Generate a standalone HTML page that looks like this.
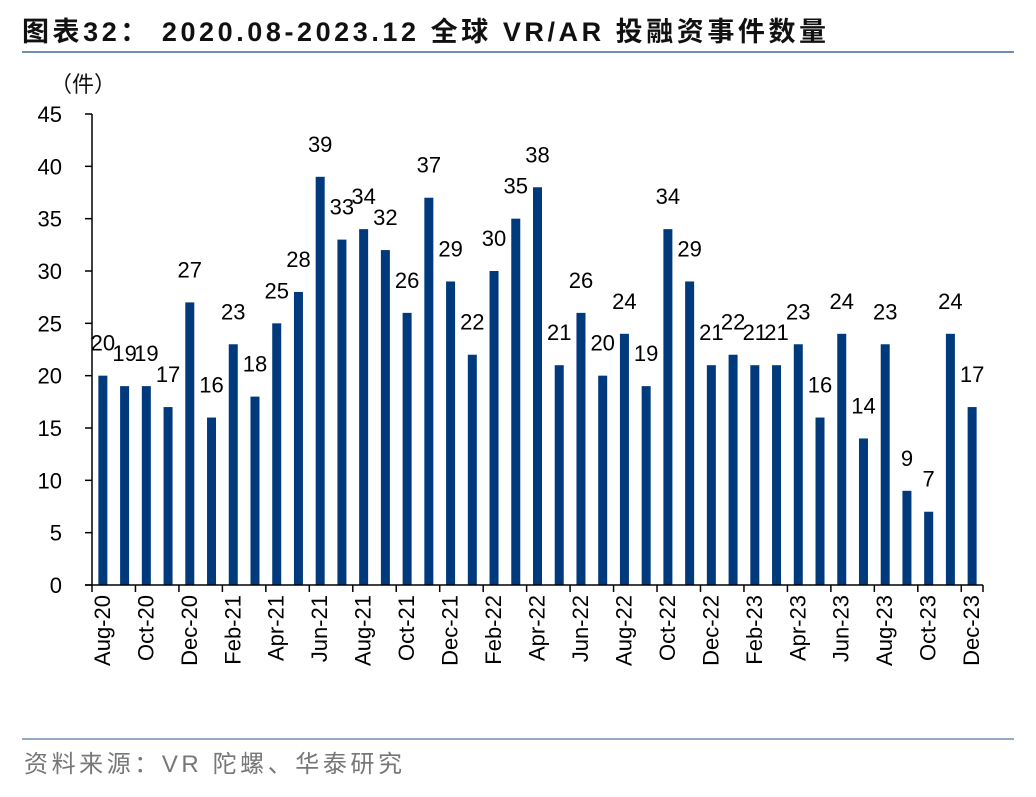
<!DOCTYPE html>
<html><head><meta charset="utf-8"><style>
body{margin:0;background:#fff;width:1036px;height:792px;overflow:hidden;font-family:"Liberation Sans","Noto Sans CJK SC",sans-serif}
</style></head><body>
<svg width="1036" height="792" xmlns="http://www.w3.org/2000/svg">
<text x="22" y="41" font-size="27" font-weight="bold" fill="#111" textLength="804" lengthAdjust="spacing" font-family="Liberation Sans, Noto Sans CJK SC, sans-serif">图表32：  2020.08-2023.12  全球 VR/AR 投融资事件数量</text>
<line x1="22" y1="52" x2="1014" y2="52" stroke="#6f8eb0" stroke-width="2"/>
<text x="50" y="92" font-size="22" fill="#111" font-family="Noto Sans CJK SC, sans-serif">（件）</text>
<g id="yax"></g><g id="bars"></g><g id="xax"></g>
<line x1="22" y1="739" x2="1014" y2="739" stroke="#6f8eb0" stroke-width="1.5"/>
<text x="24" y="772" font-size="24" fill="#777" textLength="378" lengthAdjust="spacing" font-family="Liberation Sans, Noto Sans CJK SC, sans-serif">资料来源：VR 陀螺、华泰研究</text>
</svg>
<script>
const categories=["Aug-20","Sep-20","Oct-20","Nov-20","Dec-20","Jan-21","Feb-21","Mar-21","Apr-21","May-21","Jun-21","Jul-21","Aug-21","Sep-21","Oct-21","Nov-21","Dec-21","Jan-22","Feb-22","Mar-22","Apr-22","May-22","Jun-22","Jul-22","Aug-22","Sep-22","Oct-22","Nov-22","Dec-22","Jan-23","Feb-23","Mar-23","Apr-23","May-23","Jun-23","Jul-23","Aug-23","Sep-23","Oct-23","Nov-23","Dec-23"];
const values=[20,19,19,17,27,16,23,18,25,28,39,33,34,32,26,37,29,22,30,35,38,21,26,20,24,19,34,29,21,22,21,21,23,16,24,14,23,9,7,24,17];
const yTicks=[0,5,10,15,20,25,30,35,40,45];
const NS="http://www.w3.org/2000/svg";
const x0=92,x1=983,y0=585,yTop=114,yMax=45;
const slot=(x1-x0)/categories.length;
const yS=v=>y0-(v/yMax)*(y0-yTop);
const xC=i=>x0+slot*(i+0.5);
function mk(tag,attrs,parent){const e=document.createElementNS(NS,tag);for(const k in attrs)e.setAttribute(k,attrs[k]);document.getElementById(parent).appendChild(e);return e;}
const ya=mk('line',{x1:x0,y1:yTop,x2:x0,y2:y0,stroke:'#000','stroke-width':1.5},'yax');


yTicks.forEach(t=>{
 const l=mk('line',{x1:x0-7,y1:yS(t),x2:x0,y2:yS(t),stroke:'#000','stroke-width':1.5},'yax');
 
 
 const tx=mk('text',{x:62,y:yS(t)+8,'font-size':22,'text-anchor':'end',fill:'#000'},'yax');
 tx.textContent=t;
 
 
});
values.forEach((v,i)=>{
 const b=mk('rect',{x:xC(i)-4.5,y:yS(v),width:9,height:y0-yS(v),fill:'#003a7d'},'bars');
 
 
 const t=mk('text',{x:xC(i),y:yS(v)-25,'font-size':22,'text-anchor':'middle',fill:'#000'},'bars');
 t.textContent=v;
 
 
});
const xa=mk('line',{x1:x0-7,y1:y0,x2:x1,y2:y0,stroke:'#000','stroke-width':1.5},'xax');


categories.forEach((c,i)=>{
 if(i%2===0){
  const tk=mk('line',{x1:x0+slot*i,y1:y0,x2:x0+slot*i,y2:y0+7,stroke:'#000','stroke-width':1.5},'xax');
  
  
  const cx=xC(i)-1, ty=y0+10;
  const t=mk('text',{x:cx+8,y:ty,'font-size':22,'text-anchor':'end',fill:'#000',transform:`rotate(-90 ${cx+8} ${ty})`},'xax');
  t.textContent=c;
  
  
 }
});
const tk=mk('line',{x1:x1,y1:y0,x2:x1,y2:y0+7,stroke:'#000','stroke-width':1.5},'xax');


</script>
</body></html>
